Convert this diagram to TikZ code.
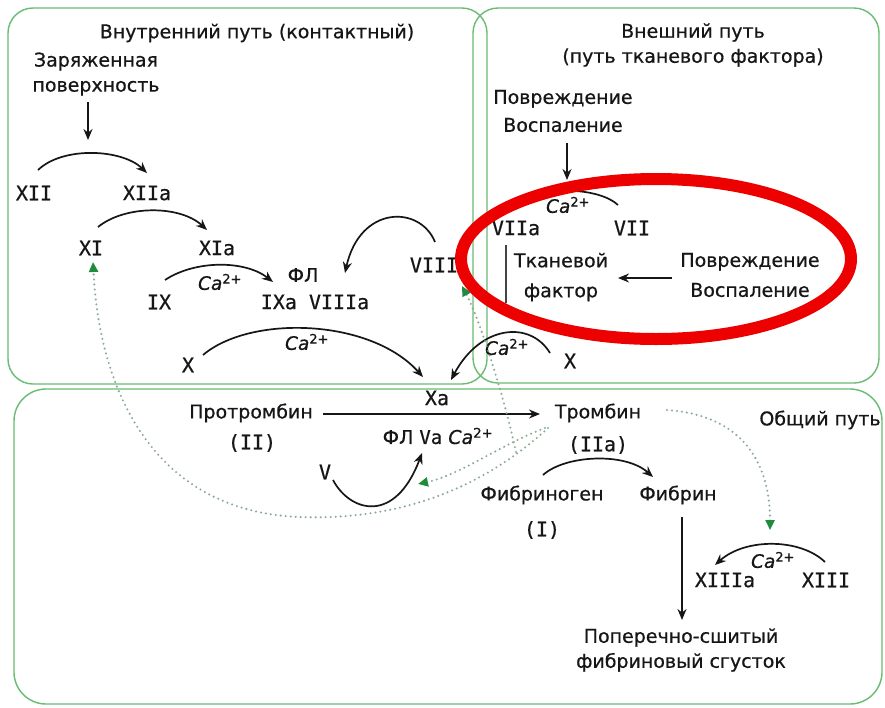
\documentclass[tikz,border=0pt]{standalone}
\usepackage{fontspec}
\setmainfont[FakeBold=0.6]{DejaVu Sans}
\newfontfamily\rn[FakeBold=0.6]{DejaVu Sans Mono}
\usetikzlibrary{arrows.meta,calc}
\definecolor{boxg}{RGB}{105,188,115}
\definecolor{dotc}{RGB}{140,172,146}
\definecolor{arrg}{RGB}{30,140,60}
\definecolor{ink}{RGB}{22,22,22}
\definecolor{ringred}{RGB}{236,0,0}
\newcommand\caion{{\itshape Ca}\textsuperscript{2+}}
\begin{document}
\begin{tikzpicture}[x=1pt,y=-1pt,
  lbl/.style={inner sep=0pt, font=\fontsize{19}{25}\selectfont, text=ink, align=center},
  num/.style={inner sep=0pt, font=\rn\fontsize{20}{24}\selectfont, text=ink},
  cal/.style={inner sep=0pt, font=\fontsize{18.5}{20}\selectfont, text=ink},
  arr/.style={draw=ink, line width=1.7pt, -{Stealth[length=11pt,width=9pt]}},
  plainline/.style={draw=ink!80, line width=1.7pt},
  dots/.style={draw=dotc, line width=2.3pt, line cap=round, dash pattern=on 0pt off 5pt,
     -{Triangle[length=10pt,width=9pt,fill=arrg,color=arrg]}},
  pbox/.style={draw=boxg, line width=1.4pt},
]
\fill[white] (0,0) rectangle (885,707);
\useasboundingbox (0,0) rectangle (885,707);

% pathway boxes
\draw[pbox, rounded corners=25pt] (8,8) rectangle (487,384);
\draw[pbox, rounded corners=25pt] (473,8) rectangle (879,383);
\draw[pbox, rounded corners=32pt] (14,389) rectangle (882,704);

% intrinsic pathway
\node[lbl] (tIn) at (257,33) {Внутренний путь (контактный)};
\node[lbl] (zar) at (96,74) {Заряженная\\поверхность};
\coordinate (zarEnd) at (88,140);
\node[num] (XII) at (34,193) {XII};
\node[num] (XIIa) at (147,193) {XIIa};
\node[num] (XI) at (91,248) {XI};
\node[num] (XIa) at (217,248) {XIa};
\node[num] (IX) at (159,302) {IX};
\node[lbl] (FL1) at (303,275) {ФЛ};
\node[num] (IXa) at (315,302) {IXa VIIIa};
\node[num] (VIII) at (434,265) {VIII};
\node[num] (X1) at (188,365) {X};
\node[num] (Xa) at (437,398) {Xa};
\node[cal] (ca1) at (220,282) {\caion};
\node[cal] (ca2) at (307,342) {\caion};

% extrinsic pathway
\node[lbl] (tEx) at (693,45) {Внешний путь\\(путь тканевого фактора)};
\node[lbl] (pov1) at (563,111) {Повреждение\\[3pt]Воспаление};
\coordinate (pov1End) at (567,180);
\node[num] (VIIa) at (516,228) {VIIa};
\node[num] (VII) at (632,228) {VII};
\node[cal] (ca4) at (568,205) {\caion};
\node[lbl] (TF) at (561,277) {Тканевой\\[5pt]фактор};
\node[lbl] (pov2) at (750,275) {Повреждение\\[5pt]Воспаление};
\node[num] (X2) at (570,361) {X};
\node[cal] (ca3) at (507,347) {\caion};

% common pathway
\node[lbl] (Pro) at (251,413) {Протромбин};
\node[num] (II) at (252,443) {(II)};
\node[lbl] (Thr) at (598,413) {Тромбин};
\node[num] (IIa) at (598,445) {(IIa)};
\node[lbl] (cof) at (438,436) {ФЛ {\rn Va} \caion};
\node[num] (V) at (325,472) {V};
\node[lbl] (Fbg) at (542,495) {Фибриноген};
\node[num] (I) at (542,530) {(I)};
\node[lbl] (Fbn) at (678,495) {Фибрин};
\node[lbl] (tCom) at (820,420) {Общий путь};
\node[num] (XIIIa) at (725,580) {XIIIa};
\node[num] (XIII) at (826,580) {XIII};
\node[cal] (ca5) at (773,560) {\caion};
\node[lbl] (clot) at (681,650) {Поперечно-сшитый\\фибриновый сгусток};

% black connectors
\draw[arr] ([shift={(-8,28)}]zar.center) -- (zarEnd);
\draw[arr] ([shift={(4,-23)}]XII.center) .. controls +(25,-24) and +(-25,-24) .. ([shift={(0,-20)}]XIIa.center);
\draw[arr] ([shift={(7,-21)}]XI.center) .. controls +(27,-22) and +(-27,-25) .. ([shift={(-10,-18)}]XIa.center);
\draw[arr] ([shift={(6,-22)}]IX.center) .. controls +(30,-20) and +(-28,-22) .. ([shift={(-42,-20)}]IXa.center);
\draw[arr] ([shift={(1,-23)}]VIII.center) .. controls +(-15,-37) and +(15,-68) .. ([shift={(30,-29)}]IXa.center);
\draw[arr] ([shift={(15,-10)}]X1.center) .. controls +(47,-40) and +(-53,-59) .. ([shift={(-14,-21)}]Xa.center);
\draw[arr] ([shift={(-20,-8)}]X2.center) .. controls +(-20,-33) and +(29,-55) .. ([shift={(14,-18)}]Xa.center);
\draw[arr] ([shift={(-14,-23)}]VII.center) .. controls +(-18,-17) and +(27,-22) .. ([shift={(2,-21)}]VIIa.center);
\draw[plainline] ([shift={(-10,17)}]VIIa.center) -- ([shift={(-55,26)}]TF.center);
\draw[arr] ([shift={(-78,3)}]pov2.center) -- ([shift={(57,1)}]TF.center);
\draw[arr] ([shift={(4,32)}]pov1.center) -- (pov1End);
\draw[arr] ([shift={(72,1)}]Pro.center) -- ([shift={(-58,1)}]Thr.center);
\draw[arr] ([shift={(8,8)}]V.center) .. controls +(17,32) and +(-27,72) .. ([shift={(-16,17)}]cof.center);
\draw[arr] ([shift={(1,-20)}]Fbg.center) .. controls +(22,-20) and +(-28,-25) .. ([shift={(-25,-18)}]Fbn.center);
\draw[arr] ([shift={(4,22)}]Fbn.center) -- ([shift={(1,-30)}]clot.center);
\draw[arr] ([shift={(-1,-18)}]XIII.center) .. controls +(-25,-24) and +(30,-27) .. ([shift={(-10,-15)}]XIIIa.center);

% dotted feedback connectors
\coordinate (brVIII) at (516,452);
\draw[dots] ([shift={(-50,15)}]Thr.center) .. controls (470,500) and (380,520) .. (300,517)
   .. controls (160,512) and (100,400) .. ([shift={(2,14)}]XI.center);
\draw[dots] ([shift={(-53,15)}]Thr.center) .. controls (500,445) and (460,475) .. ([shift={(-20,48)}]cof.center);
\draw[dots] (brVIII) .. controls (505,400) and (480,320) .. ([shift={(28,21)}]VIII.center);
\draw[dots] ([shift={(69,-3)}]Thr.center) .. controls (740,415) and (770,460) .. ([shift={(45,-50)}]XIIIa.center);

% red highlight ring
\draw[ringred, line width=12pt] (656,259) ellipse [x radius=195, y radius=80];
\end{tikzpicture}
\end{document}
